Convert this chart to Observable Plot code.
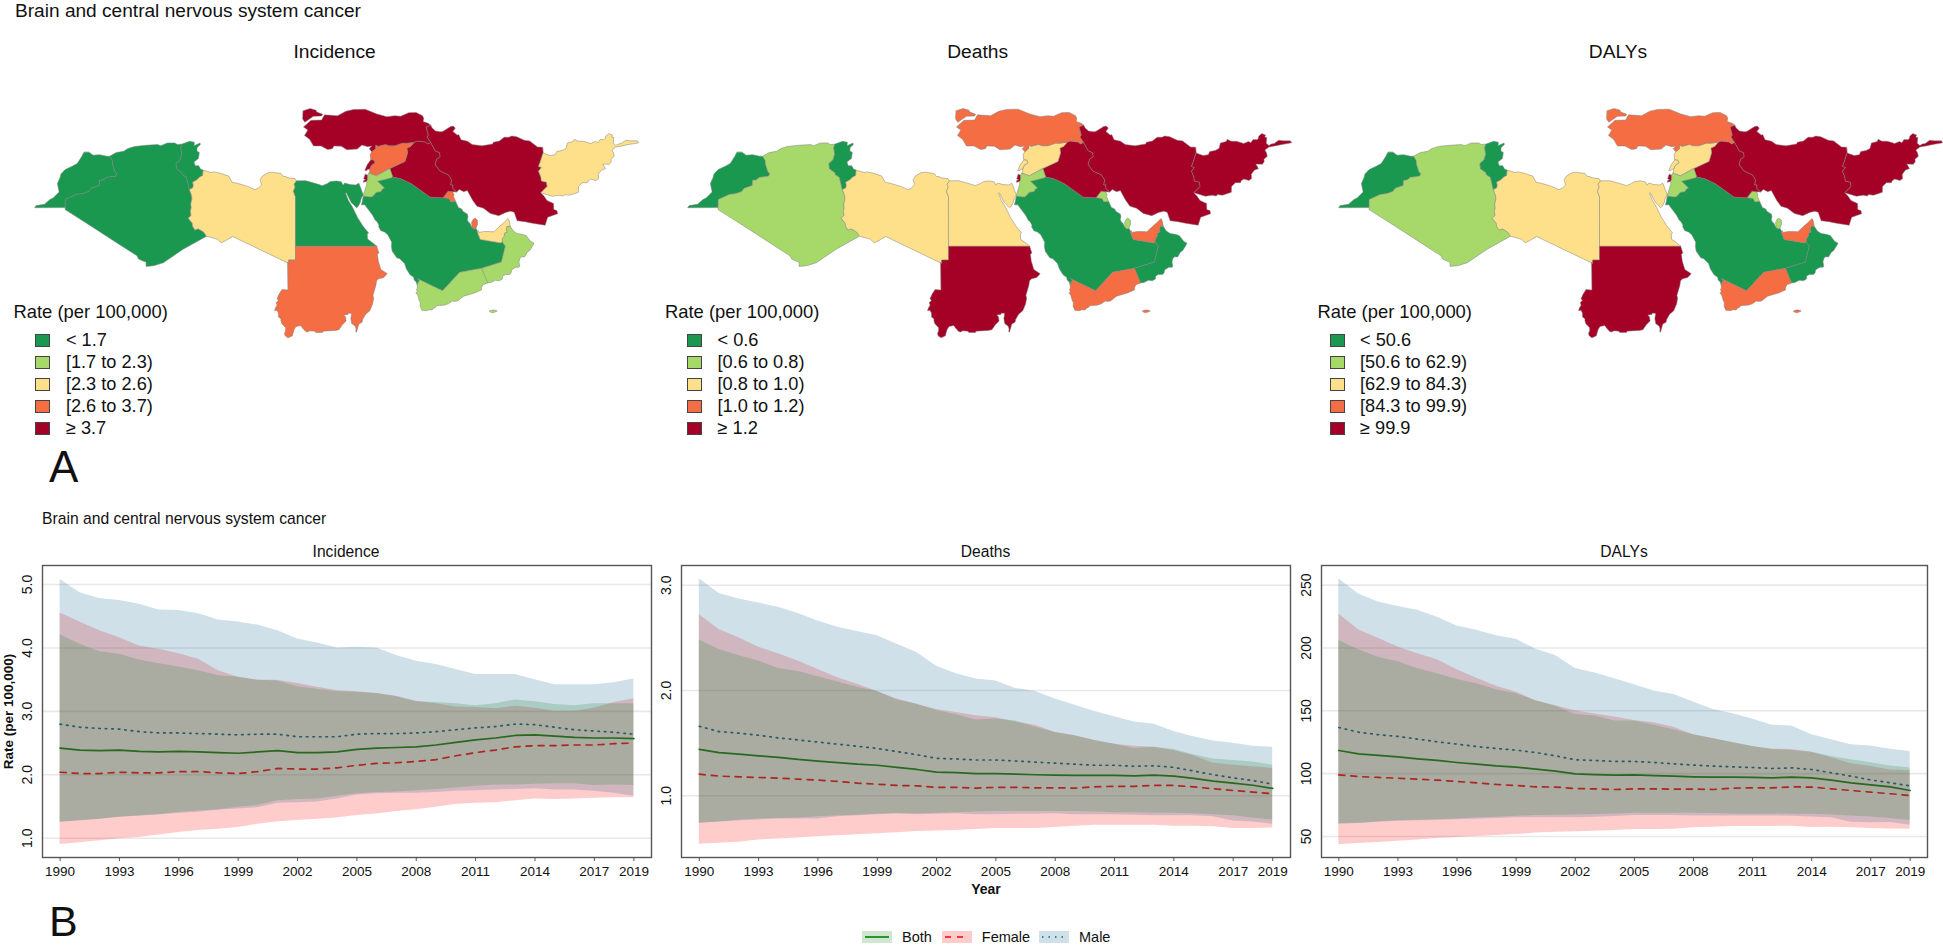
<!DOCTYPE html>
<html><head><meta charset="utf-8">
<script src="https://cdn.jsdelivr.net/npm/d3@7"></script>
<script src="https://cdn.jsdelivr.net/npm/@observablehq/plot@0.6"></script>
<style>
html,body{margin:0;padding:0;background:#fff;}
body{position:relative;width:1943px;height:946px;overflow:hidden;font-family:"Liberation Sans",Arial,sans-serif;color:#111;}
.t{position:absolute;white-space:nowrap;line-height:1;}
.c{transform:translateX(-50%);}
.sw{position:absolute;width:13px;height:11px;border:1px solid #444;box-sizing:content-box;}
.p{position:absolute;}
</style></head><body>
<script>
// ---------- country outlines (lon, lat) ----------
const morocco=[[-5.19,35.76],[-4.59,35.33],[-3.64,35.40],[-2.60,35.18],[-2.17,35.17],[-1.79,34.53],[-1.73,33.92],[-1.39,32.86],[-1.12,32.65],[-1.31,32.26],[-2.62,32.09],[-3.07,31.72],[-3.65,31.64],[-3.69,30.90],[-4.86,30.50],[-5.24,30.00],[-6.06,29.73],[-7.06,29.58],[-8.67,28.84],[-8.67,27.66],[-13.13,27.64],[-12.93,27.95],[-11.69,28.15],[-10.90,28.83],[-10.40,29.10],[-9.56,29.93],[-9.81,31.18],[-9.43,32.04],[-9.30,32.56],[-8.66,33.24],[-7.65,33.70],[-6.91,34.11],[-6.24,35.15],[-5.93,35.76],[-5.19,35.76]];
const algeria=[[-8.68,27.40],[-8.67,27.66],[-8.67,28.84],[-7.06,29.58],[-6.06,29.73],[-5.24,30.0],[-4.86,30.5],[-3.69,30.9],[-3.65,31.64],[-3.07,31.72],[-2.62,32.09],[-1.31,32.26],[-1.12,32.65],[-1.39,32.86],[-1.73,33.92],[-1.79,34.53],[-2.17,35.17],[-1.21,35.71],[-0.13,35.89],[0.50,36.30],[1.47,36.61],[3.16,36.78],[4.82,36.87],[5.32,36.72],[6.26,37.11],[7.33,37.12],[7.74,36.89],[8.42,36.95],[8.22,36.43],[8.38,35.48],[8.14,34.66],[7.52,34.10],[7.61,33.34],[8.43,32.75],[8.44,32.51],[9.06,32.10],[9.48,30.31],[9.81,29.42],[9.86,28.96],[9.68,28.14],[9.76,27.69],[9.63,27.14],[9.72,26.51],[9.32,26.09],[9.91,25.37],[9.95,24.94],[10.30,24.38],[10.77,24.56],[11.56,24.10],[11.99,23.47],[8.57,21.57],[5.68,19.60],[4.27,19.16],[3.16,19.06],[3.15,19.69],[2.68,19.86],[2.06,20.14],[1.82,20.61],[-1.55,22.79],[-4.92,24.97],[-8.68,27.40]];
const tunisia=[[9.48,30.31],[9.06,32.10],[8.44,32.51],[8.43,32.75],[7.61,33.34],[7.52,34.10],[8.14,34.66],[8.38,35.48],[8.22,36.43],[8.42,36.95],[9.51,37.35],[10.21,37.23],[10.18,36.72],[11.03,37.09],[11.10,36.90],[10.60,36.41],[10.59,35.95],[10.94,35.70],[10.81,34.83],[10.15,34.33],[10.34,33.79],[10.86,33.77],[11.11,33.29],[11.49,33.14],[11.43,32.37],[10.94,32.08],[10.64,31.76],[9.95,31.38],[10.06,30.96],[9.97,30.54],[9.48,30.31]];
const libya=[[14.85,22.86],[14.14,22.49],[13.58,23.04],[11.99,23.47],[11.56,24.10],[10.77,24.56],[10.30,24.38],[9.95,24.94],[9.91,25.37],[9.32,26.09],[9.72,26.51],[9.63,27.14],[9.76,27.69],[9.68,28.14],[9.86,28.96],[9.81,29.42],[9.48,30.31],[9.97,30.54],[10.06,30.96],[9.95,31.38],[10.64,31.76],[10.94,32.08],[11.43,32.37],[11.49,33.14],[12.66,32.79],[13.08,32.88],[13.92,32.71],[15.25,32.27],[15.71,31.38],[16.61,31.18],[18.02,30.76],[19.09,30.27],[19.57,30.53],[20.05,30.99],[19.82,31.75],[20.13,32.24],[20.85,32.71],[21.54,32.84],[22.90,32.64],[23.24,32.19],[23.61,32.19],[23.93,32.02],[24.92,31.90],[25.16,31.57],[24.80,31.09],[24.96,30.66],[24.70,30.04],[25.0,29.24],[25.0,25.68],[25.0,22.0],[25.0,20.0],[24.0,20.0],[24.0,19.5],[15.86,23.41],[14.85,22.86]];
const egypt=[[36.87,22.0],[32.9,22.0],[29.02,22.0],[25.0,22.0],[25.0,25.68],[25.0,29.24],[24.70,30.04],[24.96,30.66],[24.80,31.09],[25.16,31.57],[26.50,31.59],[27.46,31.32],[28.45,31.03],[28.91,30.87],[29.68,31.19],[30.10,31.47],[30.98,31.56],[31.69,31.43],[31.96,30.93],[32.19,31.26],[32.99,31.02],[33.77,30.97],[34.27,31.22],[34.92,29.50],[34.64,29.10],[34.43,28.34],[34.15,27.82],[33.92,27.65],[33.59,27.97],[33.14,28.42],[32.42,29.85],[32.32,29.76],[32.73,28.71],[33.35,27.70],[34.10,26.14],[34.47,25.60],[34.80,25.03],[35.69,23.93],[35.49,23.81],[35.53,23.10],[36.87,22.0]];
const sudan=[[24.0,19.5],[24.0,20.0],[25.0,20.0],[25.0,22.0],[29.02,22.0],[32.9,22.0],[36.87,22.0],[37.19,21.02],[36.97,20.84],[37.11,19.81],[37.48,18.61],[37.86,18.37],[38.41,18.0],[37.90,17.43],[37.17,17.26],[36.85,16.96],[36.75,16.29],[36.32,14.82],[36.43,14.42],[36.27,13.56],[35.86,12.58],[35.26,12.08],[34.83,11.32],[34.73,10.91],[34.26,10.63],[33.96,9.58],[33.96,9.46],[33.82,9.48],[33.84,9.98],[33.72,10.33],[33.21,10.72],[33.09,11.44],[33.21,12.18],[32.74,12.25],[32.67,12.02],[32.07,11.97],[32.31,11.68],[32.40,11.08],[31.85,10.53],[31.35,9.81],[30.84,9.71],[29.00,9.60],[28.97,9.40],[27.97,9.40],[27.83,9.60],[27.11,9.64],[26.75,9.47],[26.48,9.55],[25.96,10.14],[25.79,10.41],[25.07,10.27],[24.79,9.81],[24.54,8.92],[24.19,8.73],[23.89,8.62],[23.81,8.67],[23.46,8.95],[23.39,9.27],[23.56,9.68],[23.55,10.09],[22.98,10.71],[22.86,11.14],[22.88,11.38],[22.51,11.68],[22.50,12.26],[22.29,12.65],[21.94,12.59],[22.04,12.96],[22.30,13.37],[22.18,13.79],[22.51,14.09],[22.30,14.33],[22.57,14.94],[23.02,15.68],[23.89,15.61],[23.84,19.58],[24.0,19.5]];
const saudi=[[34.96,29.36],[36.07,29.20],[36.50,29.51],[36.74,29.87],[37.50,30.0],[37.67,30.34],[38.0,30.51],[37.00,31.51],[39.00,32.01],[39.20,32.16],[40.40,31.89],[41.89,31.19],[44.71,29.18],[46.57,29.10],[47.46,29.00],[47.71,28.53],[48.42,28.55],[48.81,27.69],[49.30,27.46],[49.47,27.11],[50.15,26.69],[50.21,26.28],[50.11,25.94],[50.24,25.61],[50.53,25.33],[50.66,25.0],[50.81,24.75],[51.11,24.56],[51.39,24.63],[51.58,24.25],[51.62,24.01],[52.0,23.0],[55.01,22.50],[55.21,22.71],[55.67,22.0],[55.1,19.7],[52.2,18.8],[49.0,18.2],[46.5,15.5],[42.78,17.3],[43.12,17.09],[42.78,16.35],[42.65,16.77],[42.35,17.08],[42.27,17.47],[41.75,17.83],[41.22,18.67],[40.94,19.49],[40.25,20.17],[39.80,20.34],[39.14,21.29],[39.02,21.99],[39.07,22.58],[38.49,23.69],[38.02,24.08],[37.48,24.29],[37.15,24.86],[37.21,25.08],[36.93,25.60],[36.64,25.83],[36.25,26.57],[35.64,27.38],[35.13,28.06],[34.63,28.06],[34.79,28.61],[34.83,28.96],[34.96,29.36]];
const yemen=[[53.11,16.65],[52.39,16.38],[52.19,15.94],[52.17,15.60],[51.17,15.18],[49.57,14.71],[48.68,14.0],[48.24,13.95],[47.94,14.01],[47.35,13.59],[46.72,13.40],[45.88,13.35],[45.63,13.29],[45.41,13.03],[45.14,12.95],[44.99,12.70],[44.49,12.72],[44.18,12.59],[43.48,12.64],[43.22,13.22],[43.25,13.77],[43.09,14.06],[42.89,14.80],[42.60,15.21],[42.81,15.26],[42.70,15.72],[42.82,15.91],[42.78,16.35],[43.12,17.09],[42.78,17.3],[46.5,15.5],[49.0,18.2],[52.2,18.8],[53.11,16.65]];
const socotra=[[53.35,12.55],[53.75,12.68],[54.1,12.68],[54.5,12.55],[54.1,12.35],[53.7,12.3],[53.35,12.55]];
const oman=[[55.21,22.71],[55.23,23.11],[55.53,23.52],[55.53,23.93],[55.98,24.13],[55.80,24.27],[55.89,24.92],[56.40,24.92],[56.85,24.24],[57.40,23.88],[58.14,23.75],[58.73,23.57],[59.18,22.99],[59.45,22.66],[59.81,22.53],[59.81,22.31],[59.44,21.71],[59.28,21.43],[58.86,21.11],[58.49,20.43],[58.03,20.48],[57.83,20.24],[57.67,19.74],[57.79,19.07],[57.69,18.94],[57.23,18.95],[56.61,18.57],[56.51,18.09],[56.28,17.88],[55.66,17.88],[55.27,17.63],[55.27,17.23],[54.79,16.95],[54.24,17.04],[53.57,16.71],[53.11,16.65],[52.2,18.8],[55.1,19.7],[55.67,22.0],[55.21,22.71]];
const uae=[[51.58,24.25],[51.76,24.29],[51.79,24.02],[52.58,24.18],[53.40,24.15],[54.01,24.12],[54.69,24.80],[55.44,25.44],[56.07,26.06],[56.26,25.71],[56.40,24.92],[55.89,24.92],[55.80,24.27],[55.98,24.13],[55.53,23.93],[55.53,23.52],[55.23,23.11],[55.21,22.71],[55.01,22.50],[52.0,23.0],[51.62,24.01],[51.58,24.25]];
const qatar=[[50.81,24.75],[50.74,25.48],[51.01,26.01],[51.29,26.11],[51.59,25.80],[51.61,25.22],[51.39,24.63],[51.11,24.56],[50.81,24.75]];
const kuwait=[[47.97,29.98],[48.18,29.53],[48.09,29.31],[48.42,28.55],[47.71,28.53],[47.46,29.00],[46.57,29.10],[47.30,30.06],[47.97,29.98]];
const iraq=[[39.20,32.16],[38.79,33.38],[41.01,34.42],[41.38,35.63],[41.29,36.36],[41.84,36.61],[42.35,37.23],[42.78,37.39],[43.94,37.26],[44.29,37.00],[44.77,37.17],[45.42,35.98],[46.08,35.68],[46.15,35.09],[45.65,34.75],[45.42,33.97],[46.11,33.02],[47.33,32.47],[47.85,31.71],[47.69,30.98],[48.00,30.99],[48.01,30.45],[48.57,29.93],[47.97,29.98],[47.30,30.06],[46.57,29.10],[44.71,29.18],[41.89,31.19],[40.40,31.89],[39.20,32.16]];
const syria=[[38.79,33.38],[36.83,32.31],[35.72,32.71],[35.84,32.87],[35.82,33.28],[36.07,33.82],[36.61,34.20],[36.45,34.59],[36.0,34.64],[35.91,35.41],[36.15,35.82],[36.42,36.04],[36.69,36.26],[36.74,36.82],[37.07,36.62],[38.17,36.90],[38.70,36.71],[39.52,36.72],[40.67,37.09],[41.21,37.07],[42.35,37.23],[41.84,36.61],[41.29,36.36],[41.38,35.63],[41.01,34.42],[38.79,33.38]];
const lebanon=[[35.82,33.28],[35.55,33.26],[35.46,33.09],[35.13,33.09],[35.48,33.91],[35.98,34.61],[36.0,34.64],[36.45,34.59],[36.61,34.20],[36.07,33.82],[35.82,33.28]];
const palestine=[[35.55,32.39],[35.55,31.78],[35.40,31.49],[34.93,31.35],[34.97,31.62],[35.23,31.75],[34.97,31.87],[35.18,32.53],[35.55,32.39]];
const jordan=[[35.55,32.39],[35.72,32.71],[36.83,32.31],[38.79,33.38],[39.20,32.16],[39.0,32.01],[37.0,31.51],[38.0,30.51],[37.67,30.34],[37.50,30.0],[36.74,29.87],[36.50,29.51],[36.07,29.20],[34.96,29.36],[34.92,29.50],[35.42,31.10],[35.40,31.49],[35.55,31.78],[35.55,32.39]];
const turkey=[[36.91,41.34],[38.35,40.95],[39.51,41.10],[40.37,41.01],[41.55,41.54],[42.62,41.58],[43.58,41.09],[43.75,40.74],[43.66,40.25],[44.40,40.0],[44.79,39.71],[44.11,39.43],[44.42,38.28],[44.23,37.97],[44.77,37.17],[44.29,37.0],[43.94,37.26],[42.78,37.39],[42.35,37.23],[41.21,37.07],[40.67,37.09],[39.52,36.72],[38.70,36.71],[38.17,36.90],[37.07,36.62],[36.74,36.82],[36.69,36.26],[36.42,36.04],[36.15,35.82],[35.78,36.27],[36.16,36.65],[35.55,36.57],[34.71,36.80],[34.03,36.22],[32.51,36.11],[31.70,36.64],[30.62,36.68],[30.39,36.26],[29.70,36.14],[28.73,36.68],[27.64,36.66],[27.05,37.65],[26.32,38.21],[26.80,38.99],[26.17,39.46],[27.28,40.42],[28.82,40.46],[29.24,41.22],[31.15,41.09],[32.35,41.74],[33.51,42.02],[35.17,42.04],[36.91,41.34]];
const thrace=[[26.12,41.83],[27.14,42.14],[28.0,41.9],[28.12,41.62],[28.99,41.30],[28.81,41.05],[27.62,41.0],[26.36,40.15],[26.04,40.62],[26.12,41.83]];
const iran=[[61.21,35.65],[60.80,34.40],[60.53,33.68],[60.96,33.53],[60.53,32.98],[60.86,32.18],[60.94,31.55],[61.70,31.38],[61.78,30.74],[60.87,29.83],[61.37,29.30],[61.77,28.70],[62.73,28.26],[62.76,27.38],[63.23,27.22],[63.32,26.76],[61.87,26.24],[61.50,25.08],[59.62,25.38],[58.53,25.61],[57.40,25.74],[56.97,26.97],[56.49,27.14],[55.72,26.96],[54.72,26.48],[53.49,26.81],[52.48,27.58],[51.52,27.87],[50.85,28.81],[50.12,30.15],[49.58,29.99],[48.94,30.32],[48.57,29.93],[48.01,30.45],[48.00,30.99],[47.69,30.98],[47.85,31.71],[47.33,32.47],[46.11,33.02],[45.42,33.97],[45.65,34.75],[46.15,35.09],[46.08,35.68],[45.42,35.98],[44.77,37.17],[44.23,37.97],[44.42,38.28],[44.11,39.43],[44.79,39.71],[44.95,39.34],[45.46,38.87],[46.14,38.74],[46.51,38.77],[47.69,39.51],[48.06,39.58],[48.36,39.29],[48.01,38.79],[48.63,38.27],[48.88,38.32],[49.20,37.58],[50.15,37.37],[50.84,36.87],[52.26,36.70],[53.83,36.97],[53.92,37.20],[54.80,37.39],[55.51,37.96],[56.18,37.94],[56.62,38.12],[57.33,38.03],[58.44,37.52],[59.23,37.41],[60.38,36.53],[61.12,36.49],[61.21,35.65]];
const afghanistan=[[61.21,35.65],[62.23,35.27],[62.98,35.40],[63.19,35.86],[63.98,36.01],[64.55,36.31],[64.75,37.11],[65.59,37.31],[65.75,37.66],[66.22,37.39],[66.52,37.36],[67.08,37.36],[67.83,37.14],[68.14,37.02],[68.86,37.34],[69.20,37.15],[69.52,37.61],[70.12,37.59],[70.27,37.74],[70.38,38.14],[70.81,38.49],[71.35,38.26],[71.24,37.95],[71.54,37.91],[71.45,37.07],[71.84,36.74],[72.19,36.95],[72.64,37.05],[73.26,37.50],[73.95,37.42],[74.98,37.42],[75.16,37.13],[74.58,37.02],[73.75,36.9],[72.92,36.72],[71.85,36.51],[71.26,36.07],[71.50,35.65],[71.61,35.15],[71.12,34.73],[71.16,34.35],[70.88,33.99],[69.93,34.02],[70.32,33.36],[69.69,33.11],[69.26,32.50],[69.32,31.90],[68.93,31.62],[68.18,31.83],[67.79,31.58],[67.68,31.30],[66.94,31.30],[66.38,30.74],[66.35,29.89],[65.05,29.47],[64.35,29.56],[64.15,29.34],[63.55,29.47],[62.55,29.32],[60.87,29.83],[61.78,30.74],[61.70,31.38],[60.94,31.55],[60.86,32.18],[60.53,32.98],[60.96,33.53],[60.53,33.68],[60.80,34.40],[61.21,35.65]];

const countryNames=["Morocco","Algeria","Tunisia","Libya","Egypt","Sudan","Saudi Arabia","Yemen","Socotra","Oman","UAE","Qatar","Kuwait","Iraq","Syria","Lebanon","Palestine","Jordan","Turkey","Thrace","Iran","Afghanistan"];
const countryShapes=[morocco,algeria,tunisia,libya,egypt,sudan,saudi,yemen,socotra,oman,uae,qatar,kuwait,iraq,syria,lebanon,palestine,jordan,turkey,thrace,iran,afghanistan];
// rate class (0 lowest .. 4 highest), same order as countryNames
const incidenceClass=[0,0,0,2,0,3,0,1,1,1,2,3,3,4,3,4,4,1,4,4,4,2];
const deathsClass   =[0,1,0,2,2,4,0,3,3,0,3,1,1,4,2,2,4,1,3,3,4,4];
const dalysClass    =[0,1,0,2,2,4,0,3,3,0,3,1,1,4,2,2,4,1,3,3,4,4];
const classColors=["#1a9850","#a6d96a","#fee08b","#f46d43","#a50026"];
const legendTitle="Rate (per 100,000)";
const incidenceLegend=["< 1.7","[1.7 to 2.3)","[2.3 to 2.6)","[2.6 to 3.7)","≥ 3.7"];
const deathsLegend=["< 0.6","[0.6 to 0.8)","[0.8 to 1.0)","[1.0 to 1.2)","≥ 1.2"];
const dalysLegend=["< 50.6","[50.6 to 62.9)","[62.9 to 84.3)","[84.3 to 99.9)","≥ 99.9"];

// ---------- trends ----------
const years=d3.range(1990,2020);
const xTicks=[1990,1993,1996,1999,2002,2005,2008,2011,2014,2017,2019];

const incMale=[2.80,2.75,2.73,2.72,2.68,2.66,2.66,2.65,2.64,2.63,2.64,2.64,2.60,2.60,2.60,2.64,2.65,2.65,2.66,2.68,2.71,2.74,2.76,2.80,2.79,2.75,2.71,2.69,2.67,2.64];
const incMaleHi=[5.08,4.87,4.78,4.75,4.69,4.60,4.59,4.54,4.44,4.41,4.36,4.27,4.14,4.08,4.0,4.01,4.0,3.88,3.79,3.74,3.66,3.58,3.58,3.58,3.5,3.42,3.42,3.42,3.45,3.51];
const incMaleLo=[1.25,1.27,1.30,1.33,1.35,1.37,1.39,1.41,1.44,1.46,1.48,1.55,1.56,1.57,1.62,1.68,1.70,1.71,1.71,1.72,1.74,1.75,1.76,1.77,1.78,1.76,1.76,1.74,1.71,1.66];
const incBoth=[2.42,2.39,2.38,2.39,2.37,2.36,2.37,2.36,2.35,2.34,2.36,2.38,2.35,2.35,2.36,2.40,2.42,2.43,2.44,2.47,2.51,2.55,2.58,2.62,2.63,2.61,2.59,2.58,2.58,2.57];
const incBothHi=[4.21,4.06,3.94,3.90,3.81,3.75,3.70,3.64,3.56,3.54,3.49,3.48,3.39,3.35,3.31,3.30,3.28,3.23,3.15,3.14,3.12,3.09,3.12,3.18,3.15,3.11,3.09,3.12,3.12,3.12];
const incBothLo=[1.25,1.28,1.30,1.33,1.35,1.37,1.41,1.43,1.45,1.49,1.52,1.59,1.61,1.62,1.66,1.70,1.72,1.73,1.75,1.77,1.79,1.82,1.84,1.84,1.85,1.86,1.86,1.83,1.84,1.83];
const incFemale=[2.04,2.02,2.02,2.04,2.03,2.03,2.05,2.05,2.03,2.02,2.05,2.10,2.09,2.09,2.11,2.15,2.18,2.19,2.21,2.24,2.30,2.35,2.39,2.44,2.46,2.46,2.47,2.47,2.49,2.50];
const incFemaleHi=[4.55,4.41,4.27,4.16,4.03,3.98,3.91,3.82,3.64,3.54,3.49,3.49,3.44,3.38,3.33,3.31,3.28,3.24,3.16,3.12,3.07,3.06,3.04,3.08,3.05,3.0,3.0,3.05,3.14,3.2];
const incFemaleLo=[0.90,0.93,0.96,0.99,1.01,1.05,1.09,1.12,1.14,1.17,1.22,1.26,1.28,1.30,1.32,1.36,1.38,1.42,1.45,1.49,1.53,1.55,1.56,1.59,1.62,1.61,1.62,1.63,1.64,1.64];

const deaMale=[1.66,1.61,1.595,1.575,1.55,1.53,1.51,1.49,1.47,1.45,1.42,1.39,1.355,1.35,1.34,1.34,1.33,1.32,1.31,1.30,1.29,1.29,1.28,1.285,1.27,1.235,1.20,1.17,1.145,1.11];
const deaMaleHi=[3.06,2.92,2.87,2.83,2.79,2.73,2.66,2.60,2.56,2.52,2.44,2.36,2.23,2.16,2.11,2.09,2.02,1.99,1.92,1.86,1.80,1.75,1.70,1.68,1.61,1.56,1.52,1.50,1.47,1.46];
const deaMaleLo=[0.74,0.75,0.76,0.77,0.78,0.78,0.78,0.80,0.81,0.82,0.83,0.82,0.825,0.83,0.82,0.82,0.825,0.825,0.83,0.82,0.82,0.82,0.815,0.81,0.81,0.81,0.80,0.76,0.75,0.73];
const deaBoth=[1.44,1.41,1.395,1.38,1.365,1.345,1.33,1.315,1.30,1.29,1.27,1.25,1.225,1.22,1.21,1.21,1.205,1.20,1.196,1.193,1.193,1.193,1.19,1.196,1.187,1.165,1.14,1.12,1.10,1.07];
const deaBothHi=[2.48,2.39,2.33,2.28,2.21,2.18,2.13,2.08,2.03,1.99,1.91,1.87,1.81,1.77,1.72,1.73,1.71,1.65,1.60,1.57,1.525,1.49,1.45,1.46,1.44,1.39,1.35,1.335,1.32,1.29];
const deaBothLo=[0.74,0.75,0.77,0.78,0.785,0.79,0.80,0.81,0.815,0.826,0.83,0.83,0.835,0.84,0.845,0.85,0.85,0.85,0.85,0.85,0.845,0.84,0.84,0.835,0.835,0.83,0.82,0.81,0.79,0.77];
const deaFemale=[1.205,1.187,1.18,1.174,1.168,1.158,1.149,1.136,1.12,1.11,1.098,1.095,1.08,1.08,1.073,1.08,1.08,1.076,1.076,1.073,1.085,1.09,1.09,1.098,1.098,1.085,1.066,1.05,1.035,1.02];
const deaFemaleHi=[2.72,2.58,2.50,2.41,2.35,2.28,2.20,2.12,2.06,1.99,1.92,1.87,1.82,1.79,1.76,1.74,1.70,1.67,1.60,1.57,1.525,1.49,1.47,1.46,1.43,1.38,1.31,1.29,1.275,1.26];
const deaFemaleLo=[0.54,0.55,0.56,0.58,0.59,0.60,0.61,0.62,0.63,0.64,0.65,0.66,0.665,0.67,0.68,0.69,0.69,0.69,0.70,0.71,0.72,0.72,0.72,0.72,0.71,0.71,0.705,0.69,0.69,0.695];

const dalMale=[136.7,133,131,129.6,127.5,125.3,123.5,121.6,120,118.7,116.8,114.2,111,110.5,109.7,109.7,108.9,107.8,106.8,106,105.4,104.9,104.1,104.6,103.3,100.7,98,95,92.7,90.3];
const dalMaleHi=[255,243,236.5,233,230,224.5,217.5,214,209.7,207,199,194,183.7,180,175.5,170.7,165.7,163,157,151,147.6,143.4,138.6,138,131,127,123,122,119.5,117.6];
const dalMaleLo=[60,60.3,61.4,62.2,62.5,62.7,63.3,63.8,64.3,64.9,65,65,65,65.4,65.9,66.7,66.7,66.7,66.4,66.4,66.4,66.4,66.4,66.2,65.6,64.9,61.4,60.9,61.1,59];
const dalBoth=[118.4,115.8,114.5,113.4,111.8,110.5,108.9,107.6,106.2,105.2,103.6,102,99.9,99.3,98.8,99,98.5,98,97.5,97.2,97.2,97,96.7,97.2,96.7,94.8,92.7,91.1,89.5,86.6];
const dalBothHi=[206,198.5,192.7,189,183.4,179.4,175,171.5,166.7,163.5,158,153.7,147,145.8,141.8,141.8,138.6,134.9,131,127.7,124.8,121.6,119.2,118.4,117,113.7,111,108.6,106,104.6];
const dalBothLo=[60,60.6,61.7,62.5,63,63.5,64,64.9,65.4,66.2,66.7,67,67.2,67.5,68,68.6,68.6,68.6,68.6,68.3,68,67.8,68,67.8,67.8,67.2,66.4,65.6,64.3,62.7];
const dalFemale=[99,97.7,97,96.4,95.6,94.8,93.8,92.7,91.4,90.6,89.5,89.3,88.2,87.9,87.4,87.9,87.9,87.7,87.7,87.4,88.5,88.7,88.7,89.5,89.3,87.9,86.6,85.3,84,82.6];
const dalFemaleHi=[227,214.5,207.8,200.7,195.4,190.6,182.6,176,169.6,165,158,154,150,147.4,145,142.3,140.5,137,131,128,124.5,121.6,119.5,119.2,117,112.6,107.8,105.7,103,102.3];
const dalFemaleLo=[43.4,44.4,45.2,46.3,47.3,48.4,49.2,50,50.8,51.6,52.7,53.4,53.7,54.2,54.8,55.6,55.6,55.8,56.9,57.4,58,58,58,58.2,57.2,57.4,56.9,56.4,56,55.8];

const sexColors={Both:"#008000",Female:"#ff0000",Male:"#00648c"};
const bandColors={Both:"#148014",Female:"#ff0000",Male:"#14648c"};
const sexDash={Both:null,Female:"6,6",Male:"1.5,5"};
const mainTitle="Brain and central nervous system cancer";
const FONT='"Liberation Sans",Arial,sans-serif';

// ---------- helpers ----------
function addText(s,x,y,size,opts={}){
  const e=document.createElement("div");e.className="t"+(opts.center?" c":"");
  e.textContent=s;e.style.left=x+"px";e.style.top=(y-size/2)+"px";e.style.fontSize=size+"px";
  document.body.appendChild(e);return e;
}
function addLetter(s,x,baseline,size){
  const e=document.createElement("div");e.className="t";e.textContent=s;
  e.style.left=x+"px";e.style.fontSize=size+"px";e.style.lineHeight="0.85";
  e.style.top=(baseline-0.7715*size)+"px";document.body.appendChild(e);
}
function place(svg,x,y){svg.classList.add("p");svg.style.left=x+"px";svg.style.top=y+"px";document.body.appendChild(svg);}

const MAP_TOP=100,K=6.84;
function drawMap(classes,offset){
  const feats=countryShapes.map((c,i)=>({type:"Feature",properties:{name:countryNames[i],cls:classes[i]},geometry:{type:"Polygon",coordinates:[c]}}));
  const svg=Plot.plot({width:639,height:245,margin:0,
    projection:d3.geoIdentity().reflectY(true).scale(K).translate([124,396.3-MAP_TOP]),
    color:{type:"ordinal",domain:[0,1,2,3,4],range:classColors},
    style:{background:"transparent"},
    marks:[Plot.geo(feats,{fill:d=>d.properties.cls,stroke:"#808080",strokeWidth:0.5})]});
  place(svg,offset,MAP_TOP);
}
function drawLegend(labels,titleX,itemX){
  addText(legendTitle,titleX,312,18.4);
  labels.forEach((s,i)=>{
    const y=[340.3,362.3,384.3,406,428.3][i];
    const sw=document.createElement("div");sw.className="sw";
    sw.style.left=itemX+"px";sw.style.top=(y-6)+"px";sw.style.background=classColors[i];
    document.body.appendChild(sw);
    addText(s,itemX+30.5,y,18.2);
  });
}
function drawTrend(cfg){
  const row=(s,m,lo,hi)=>years.map((y,i)=>({year:y,sex:s,mean:m[i],lo:lo[i],hi:hi[i]}));
  const both=row("Both",cfg.both,cfg.bothLo,cfg.bothHi),
        female=row("Female",cfg.female,cfg.femaleLo,cfg.femaleHi),
        male=row("Male",cfg.male,cfg.maleLo,cfg.maleHi);
  const L=cfg.pad,W=cfg.right-cfg.left;
  const layers=[[female,"Female"],[both,"Both"],[male,"Male"]];
  const marks=[
    Plot.ruleY(cfg.ticks,{stroke:"#e8e8e8",strokeWidth:1.6}),
    ...layers.map(([r,s])=>Plot.line(r,{x:"year",y:"mean",stroke:sexColors[s],strokeWidth:1.7,strokeDasharray:sexDash[s]})),
    ...layers.map(([r,s])=>Plot.areaY(r,{x:"year",y1:"lo",y2:"hi",fill:bandColors[s],fillOpacity:0.2})),
    Plot.axisX({ticks:xTicks,tickFormat:d=>String(d),tickSize:4,tickPadding:5,stroke:"#555",fontSize:13.5,label:null,color:"#111"}),
    Plot.axisY({ticks:cfg.ticks,tickFormat:cfg.fmt,tickSize:0,tickRotate:-90,tickPadding:11,fontSize:14,label:null,color:"#111",textAnchor:"middle"}),
    Plot.frame({stroke:"#555",strokeWidth:1.4})
  ];
  if(cfg.yTitle)marks.push(Plot.text([cfg.yTitle],{frameAnchor:"left",textAnchor:"middle",rotate:-90,dx:-34,fontWeight:"bold",fontSize:13.5,fill:"#111"}));
  if(cfg.xTitle)marks.push(Plot.text([cfg.xTitle],{frameAnchor:"bottom",dy:36,fontWeight:"bold",fontSize:14,fill:"#111"}));
  const svg=Plot.plot({width:W+cfg.left+5,height:857-560+40,marginLeft:cfg.left,marginRight:5,marginTop:5,marginBottom:40,
    x:{domain:[1990-L,2019+L],label:null},y:{domain:cfg.domain,label:null},
    style:{background:"transparent",fontFamily:FONT,overflow:"visible"},marks});
  place(svg,cfg.x0,560);
}

// ---------- panel A ----------
addText(mainTitle,15,11,19.1);
addText("Incidence",334.6,52,19.2,{center:true});
addText("Deaths",977.6,52,19.2,{center:true});
addText("DALYs",1618,52,19.2,{center:true});
drawMap(incidenceClass,0);
drawMap(deathsClass,652.5);
drawMap(dalysClass,1304);
drawLegend(incidenceLegend,13.5,35.4);
drawLegend(deathsLegend,665,687);
drawLegend(dalysLegend,1317.6,1329.5);
addLetter("A",49,481.5,44);

// ---------- panel B ----------
addText(mainTitle,42,519,15.7);
addText("Incidence",346,552,15.6,{center:true});
addText("Deaths",985.5,552,15.6,{center:true});
addText("DALYs",1624,552,15.6,{center:true});
const f1=d3.format(".1f"),f0=d3.format("d");
drawTrend({x0:0,left:42,right:651,pad:0.89,domain:[0.696,5.3],ticks:[1,2,3,4,5],fmt:f1,yTitle:"Rate (per 100,000)",
  both:incBoth,bothLo:incBothLo,bothHi:incBothHi,female:incFemale,femaleLo:incFemaleLo,femaleHi:incFemaleHi,male:incMale,maleLo:incMaleLo,maleHi:incMaleHi});
drawTrend({x0:639,left:42,right:651,pad:0.9,domain:[0.414,3.187],ticks:[1,2,3],fmt:f1,xTitle:"Year",
  both:deaBoth,bothLo:deaBothLo,bothHi:deaBothHi,female:deaFemale,femaleLo:deaFemaleLo,femaleHi:deaFemaleHi,male:deaMale,maleLo:deaMaleLo,maleHi:deaMaleHi});
drawTrend({x0:1279,left:42,right:648,pad:0.88,domain:[33.3,265.6],ticks:[50,100,150,200,250],fmt:f0,
  both:dalBoth,bothLo:dalBothLo,bothHi:dalBothHi,female:dalFemale,femaleLo:dalFemaleLo,femaleHi:dalFemaleHi,male:dalMale,maleLo:dalMaleLo,maleHi:dalMaleHi});
addLetter("B",49,936.5,43);

// bottom legend
[["Both",862,902],["Female",941.8,981.8],["Male",1039,1079]].forEach(([s,x,tx])=>{
  const ns="http://www.w3.org/2000/svg";
  const k=document.createElementNS(ns,"svg");k.setAttribute("width",30);k.setAttribute("height",12);
  const r=document.createElementNS(ns,"rect");r.setAttribute("width",30);r.setAttribute("height",12);r.setAttribute("fill",bandColors[s]);r.setAttribute("fill-opacity",0.2);
  const l=document.createElementNS(ns,"line");l.setAttribute("x1",3);l.setAttribute("x2",27);l.setAttribute("y1",6);l.setAttribute("y2",6);l.setAttribute("stroke",sexColors[s]);l.setAttribute("stroke-width",1.6);
  if(sexDash[s])l.setAttribute("stroke-dasharray",sexDash[s]);
  k.appendChild(r);k.appendChild(l);k.style.position="absolute";k.style.left=x+"px";k.style.top="930.5px";document.body.appendChild(k);
  addText(s,tx,937,14.5);
});
</script>
</body></html>
